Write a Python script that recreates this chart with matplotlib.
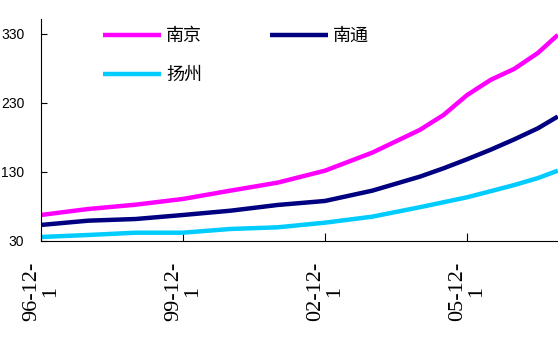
import matplotlib
matplotlib.use("Agg")
import matplotlib.pyplot as plt
import pandas as pd

dates = ['1996-12-01', '1997-12-01', '1998-12-01', '1999-12-01', '2000-12-01',
         '2001-12-01', '2002-12-01', '2003-12-01', '2004-12-01', '2005-06-01',
         '2005-12-01', '2006-06-01', '2006-12-01', '2007-06-01', '2007-11-01']
nanjing = [67.6, 76.3, 82.5, 90.8, 102.8, 114.4, 131.7, 157.8, 190.6, 212, 241, 263, 279, 302, 328]
nantong = [53.2, 59.4, 61.8, 67.6, 73.8, 82.1, 87.9, 102.8, 123, 135, 148.2, 162, 177, 193, 210]
yangzhou = [35.8, 38.7, 42, 42, 47.4, 49.8, 56.5, 65.2, 78.8, 86, 93.2, 102, 111, 121, 131.7]
series_names = ['南京', '南通', '扬州']
tick_dates = ['1996-12-01', '1999-12-01', '2002-12-01', '2005-12-01']
tick_labels = ['96-12-\n1', '99-12-\n1', '02-12-\n1', '05-12-\n1']
yticks = [30, 130, 230, 330]

plt.rcParams['font.family'] = ['Noto Sans CJK SC', 'DejaVu Sans']

x = pd.to_datetime(dates)
fig = plt.figure(figsize=(5.58, 3.42), dpi=100)
ax = fig.add_axes([41/558, 101/342, 1 - 41/558, (241 - 19)/342])

l1, = ax.plot(x, nanjing, color='#FF00FF', lw=3.2, label=series_names[0], solid_capstyle='butt')
l2, = ax.plot(x, nantong, color='#000080', lw=3.2, label=series_names[1], solid_capstyle='butt')
l3, = ax.plot(x, yangzhou, color='#00CCFF', lw=3.2, label=series_names[2], solid_capstyle='butt')

x0 = pd.Timestamp('1996-12-01')
x1 = x0 + pd.Timedelta(days=365.25 * 10.92)
ax.set_xlim(x0, x1)
ax.set_ylim(30, 351)

ax.set_yticks(yticks)
ax.set_yticklabels([str(v) for v in yticks], fontfamily='Liberation Sans', fontsize=10)
ax.set_xticks(pd.to_datetime(tick_dates))
ax.set_xticklabels(tick_labels, rotation=90, fontfamily='Liberation Serif', fontsize=16,
                   ha='center', va='top', multialignment='center', linespacing=1.0)
ax.tick_params(axis='x', direction='in', length=6, pad=15, width=0.8)
ax.tick_params(axis='y', direction='in', length=4, pad=12, width=0.8)

for s in ['top', 'right']:
    ax.spines[s].set_visible(False)
for s in ['left', 'bottom']:
    ax.spines[s].set_linewidth(0.8)

leg = fig.legend([l1, l3, l2], [series_names[0], series_names[2], series_names[1]],
                 ncol=2, loc='upper left', bbox_to_anchor=(103/558, (342 - 27)/342),
                 frameon=False, fontsize=13, handlelength=3.2, handletextpad=0.3,
                 columnspacing=3.75, labelspacing=1.17, borderpad=0, borderaxespad=0)

fig.savefig('out.png', dpi=100)
